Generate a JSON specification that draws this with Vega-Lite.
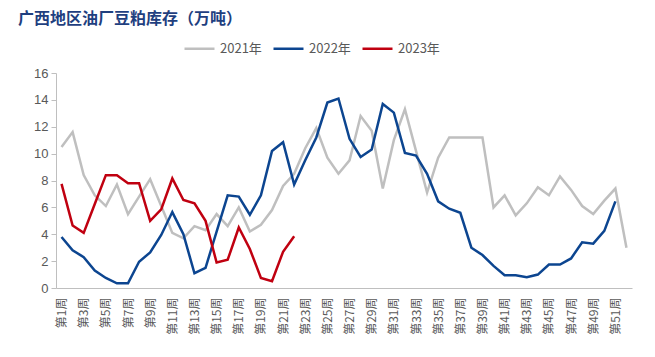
{
  "$schema": "https://vega.github.io/schema/vega-lite/v6.json",
  "width": 576,
  "height": 215,
  "autosize": {"type": "none"},
  "padding": {"left": 56, "top": 73, "right": 23, "bottom": 69},
  "background": "white",
  "title": {
    "text": "广西地区油厂豆粕库存（万吨）",
    "anchor": "start",
    "frame": "group",
    "dx": -38,
    "offset": 5,
    "font": "Noto Sans CJK SC",
    "fontSize": 16,
    "fontWeight": "bold",
    "color": "#1f3f7f"
  },
  "config": {
    "view": {"stroke": null},
    "font": "Liberation Sans"
  },
  "data": {"values": [
    {"年份":"2021年","周":1,"库存":10.5},{"年份":"2021年","周":2,"库存":11.6},{"年份":"2021年","周":3,"库存":8.4},{"年份":"2021年","周":4,"库存":6.9},{"年份":"2021年","周":5,"库存":6.1},{"年份":"2021年","周":6,"库存":7.7},{"年份":"2021年","周":7,"库存":5.5},{"年份":"2021年","周":8,"库存":6.8},{"年份":"2021年","周":9,"库存":8.1},{"年份":"2021年","周":10,"库存":6.1},{"年份":"2021年","周":11,"库存":4.1},{"年份":"2021年","周":12,"库存":3.7},{"年份":"2021年","周":13,"库存":4.6},{"年份":"2021年","周":14,"库存":4.3},{"年份":"2021年","周":15,"库存":5.5},{"年份":"2021年","周":16,"库存":4.6},{"年份":"2021年","周":17,"库存":6.0},{"年份":"2021年","周":18,"库存":4.2},{"年份":"2021年","周":19,"库存":4.7},{"年份":"2021年","周":20,"库存":5.8},{"年份":"2021年","周":21,"库存":7.6},{"年份":"2021年","周":22,"库存":8.5},{"年份":"2021年","周":23,"库存":10.4},{"年份":"2021年","周":24,"库存":11.9},{"年份":"2021年","周":25,"库存":9.7},{"年份":"2021年","周":26,"库存":8.5},{"年份":"2021年","周":27,"库存":9.5},{"年份":"2021年","周":28,"库存":12.8},{"年份":"2021年","周":29,"库存":11.7},{"年份":"2021年","周":30,"库存":7.4},{"年份":"2021年","周":31,"库存":11.0},{"年份":"2021年","周":32,"库存":13.3},{"年份":"2021年","周":33,"库存":10.2},{"年份":"2021年","周":34,"库存":7.1},{"年份":"2021年","周":35,"库存":9.7},{"年份":"2021年","周":36,"库存":11.2},{"年份":"2021年","周":37,"库存":11.2},{"年份":"2021年","周":38,"库存":11.2},{"年份":"2021年","周":39,"库存":11.2},{"年份":"2021年","周":40,"库存":6.0},{"年份":"2021年","周":41,"库存":6.9},{"年份":"2021年","周":42,"库存":5.4},{"年份":"2021年","周":43,"库存":6.3},{"年份":"2021年","周":44,"库存":7.5},{"年份":"2021年","周":45,"库存":6.9},{"年份":"2021年","周":46,"库存":8.3},{"年份":"2021年","周":47,"库存":7.3},{"年份":"2021年","周":48,"库存":6.1},{"年份":"2021年","周":49,"库存":5.5},{"年份":"2021年","周":50,"库存":6.5},{"年份":"2021年","周":51,"库存":7.4},{"年份":"2021年","周":52,"库存":3.0},
    {"年份":"2022年","周":1,"库存":3.8},{"年份":"2022年","周":2,"库存":2.8},{"年份":"2022年","周":3,"库存":2.3},{"年份":"2022年","周":4,"库存":1.3},{"年份":"2022年","周":5,"库存":0.75},{"年份":"2022年","周":6,"库存":0.35},{"年份":"2022年","周":7,"库存":0.35},{"年份":"2022年","周":8,"库存":1.95},{"年份":"2022年","周":9,"库存":2.65},{"年份":"2022年","周":10,"库存":3.95},{"年份":"2022年","周":11,"库存":5.65},{"年份":"2022年","周":12,"库存":4.0},{"年份":"2022年","周":13,"库存":1.1},{"年份":"2022年","周":14,"库存":1.5},{"年份":"2022年","周":15,"库存":4.2},{"年份":"2022年","周":16,"库存":6.9},{"年份":"2022年","周":17,"库存":6.8},{"年份":"2022年","周":18,"库存":5.45},{"年份":"2022年","周":19,"库存":6.9},{"年份":"2022年","周":20,"库存":10.2},{"年份":"2022年","周":21,"库存":10.85},{"年份":"2022年","周":22,"库存":7.7},{"年份":"2022年","周":23,"库存":9.5},{"年份":"2022年","周":24,"库存":11.2},{"年份":"2022年","周":25,"库存":13.8},{"年份":"2022年","周":26,"库存":14.1},{"年份":"2022年","周":27,"库存":11.1},{"年份":"2022年","周":28,"库存":9.75},{"年份":"2022年","周":29,"库存":10.3},{"年份":"2022年","周":30,"库存":13.7},{"年份":"2022年","周":31,"库存":13.05},{"年份":"2022年","周":32,"库存":10.05},{"年份":"2022年","周":33,"库存":9.85},{"年份":"2022年","周":34,"库存":8.5},{"年份":"2022年","周":35,"库存":6.45},{"年份":"2022年","周":36,"库存":5.9},{"年份":"2022年","周":37,"库存":5.6},{"年份":"2022年","周":38,"库存":3.0},{"年份":"2022年","周":39,"库存":2.45},{"年份":"2022年","周":40,"库存":1.65},{"年份":"2022年","周":41,"库存":0.95},{"年份":"2022年","周":42,"库存":0.95},{"年份":"2022年","周":43,"库存":0.8},{"年份":"2022年","周":44,"库存":1.0},{"年份":"2022年","周":45,"库存":1.75},{"年份":"2022年","周":46,"库存":1.75},{"年份":"2022年","周":47,"库存":2.2},{"年份":"2022年","周":48,"库存":3.4},{"年份":"2022年","周":49,"库存":3.3},{"年份":"2022年","周":50,"库存":4.25},{"年份":"2022年","周":51,"库存":6.45},
    {"年份":"2023年","周":1,"库存":7.75},{"年份":"2023年","周":2,"库存":4.65},{"年份":"2023年","周":3,"库存":4.1},{"年份":"2023年","周":4,"库存":6.25},{"年份":"2023年","周":5,"库存":8.4},{"年份":"2023年","周":6,"库存":8.4},{"年份":"2023年","周":7,"库存":7.8},{"年份":"2023年","周":8,"库存":7.8},{"年份":"2023年","周":9,"库存":5.0},{"年份":"2023年","周":10,"库存":5.85},{"年份":"2023年","周":11,"库存":8.15},{"年份":"2023年","周":12,"库存":6.55},{"年份":"2023年","周":13,"库存":6.3},{"年份":"2023年","周":14,"库存":5.0},{"年份":"2023年","周":15,"库存":1.9},{"年份":"2023年","周":16,"库存":2.1},{"年份":"2023年","周":17,"库存":4.5},{"年份":"2023年","周":18,"库存":2.9},{"年份":"2023年","周":19,"库存":0.75},{"年份":"2023年","周":20,"库存":0.5},{"年份":"2023年","周":21,"库存":2.7},{"年份":"2023年","周":22,"库存":3.85}
  ]},
  "mark": {"type": "line", "strokeWidth": 2.5},
  "encoding": {
    "x": {
      "field": "周", "type": "quantitative",
      "scale": {"domain": [0.5, 52.5], "nice": false, "zero": false},
      "axis": {
        "title": null,
        "values": [1,3,5,7,9,11,13,15,17,19,21,23,25,27,29,31,33,35,37,39,41,43,45,47,49,51],
        "labelExpr": "'第' + datum.value + '周'",
        "labelAngle": 270,
        "labelAlign": "right",
        "labelBaseline": "middle",
        "labelPadding": 9,
        "labelFont": "Noto Sans CJK SC",
        "labelFontSize": 12,
        "labelColor": "#595959",
        "ticks": false,
        "grid": false,
        "domainColor": "#bfbfbf",
        "domainWidth": 1,
        "labelOverlap": false
      }
    },
    "y": {
      "field": "库存", "type": "quantitative",
      "scale": {"domain": [0, 16], "nice": false},
      "axis": {
        "title": null,
        "values": [0,2,4,6,8,10,12,14,16],
        "grid": false,
        "ticks": true,
        "tickSize": 5,
        "tickColor": "#bfbfbf",
        "domainColor": "#bfbfbf",
        "labelFont": "Liberation Sans",
        "labelFontSize": 13,
        "labelColor": "#595959",
        "labelPadding": 3
      }
    },
    "color": {
      "field": "年份", "type": "nominal",
      "scale": {"domain": ["2021年","2022年","2023年"], "range": ["#bfbfbf","#0c4590","#c00010"]},
      "legend": {
        "title": null,
        "orient": "none",
        "direction": "horizontal",
        "legendX": 127,
        "legendY": -41,
        "symbolType": "stroke",
        "symbolSize": 900,
        "symbolStrokeWidth": 2.5,
        "labelFont": "Noto Sans CJK SC",
        "labelFontSize": 13,
        "labelColor": "#595959",
        "labelOffset": 4,
        "columnPadding": 6
      }
    }
  }
}
